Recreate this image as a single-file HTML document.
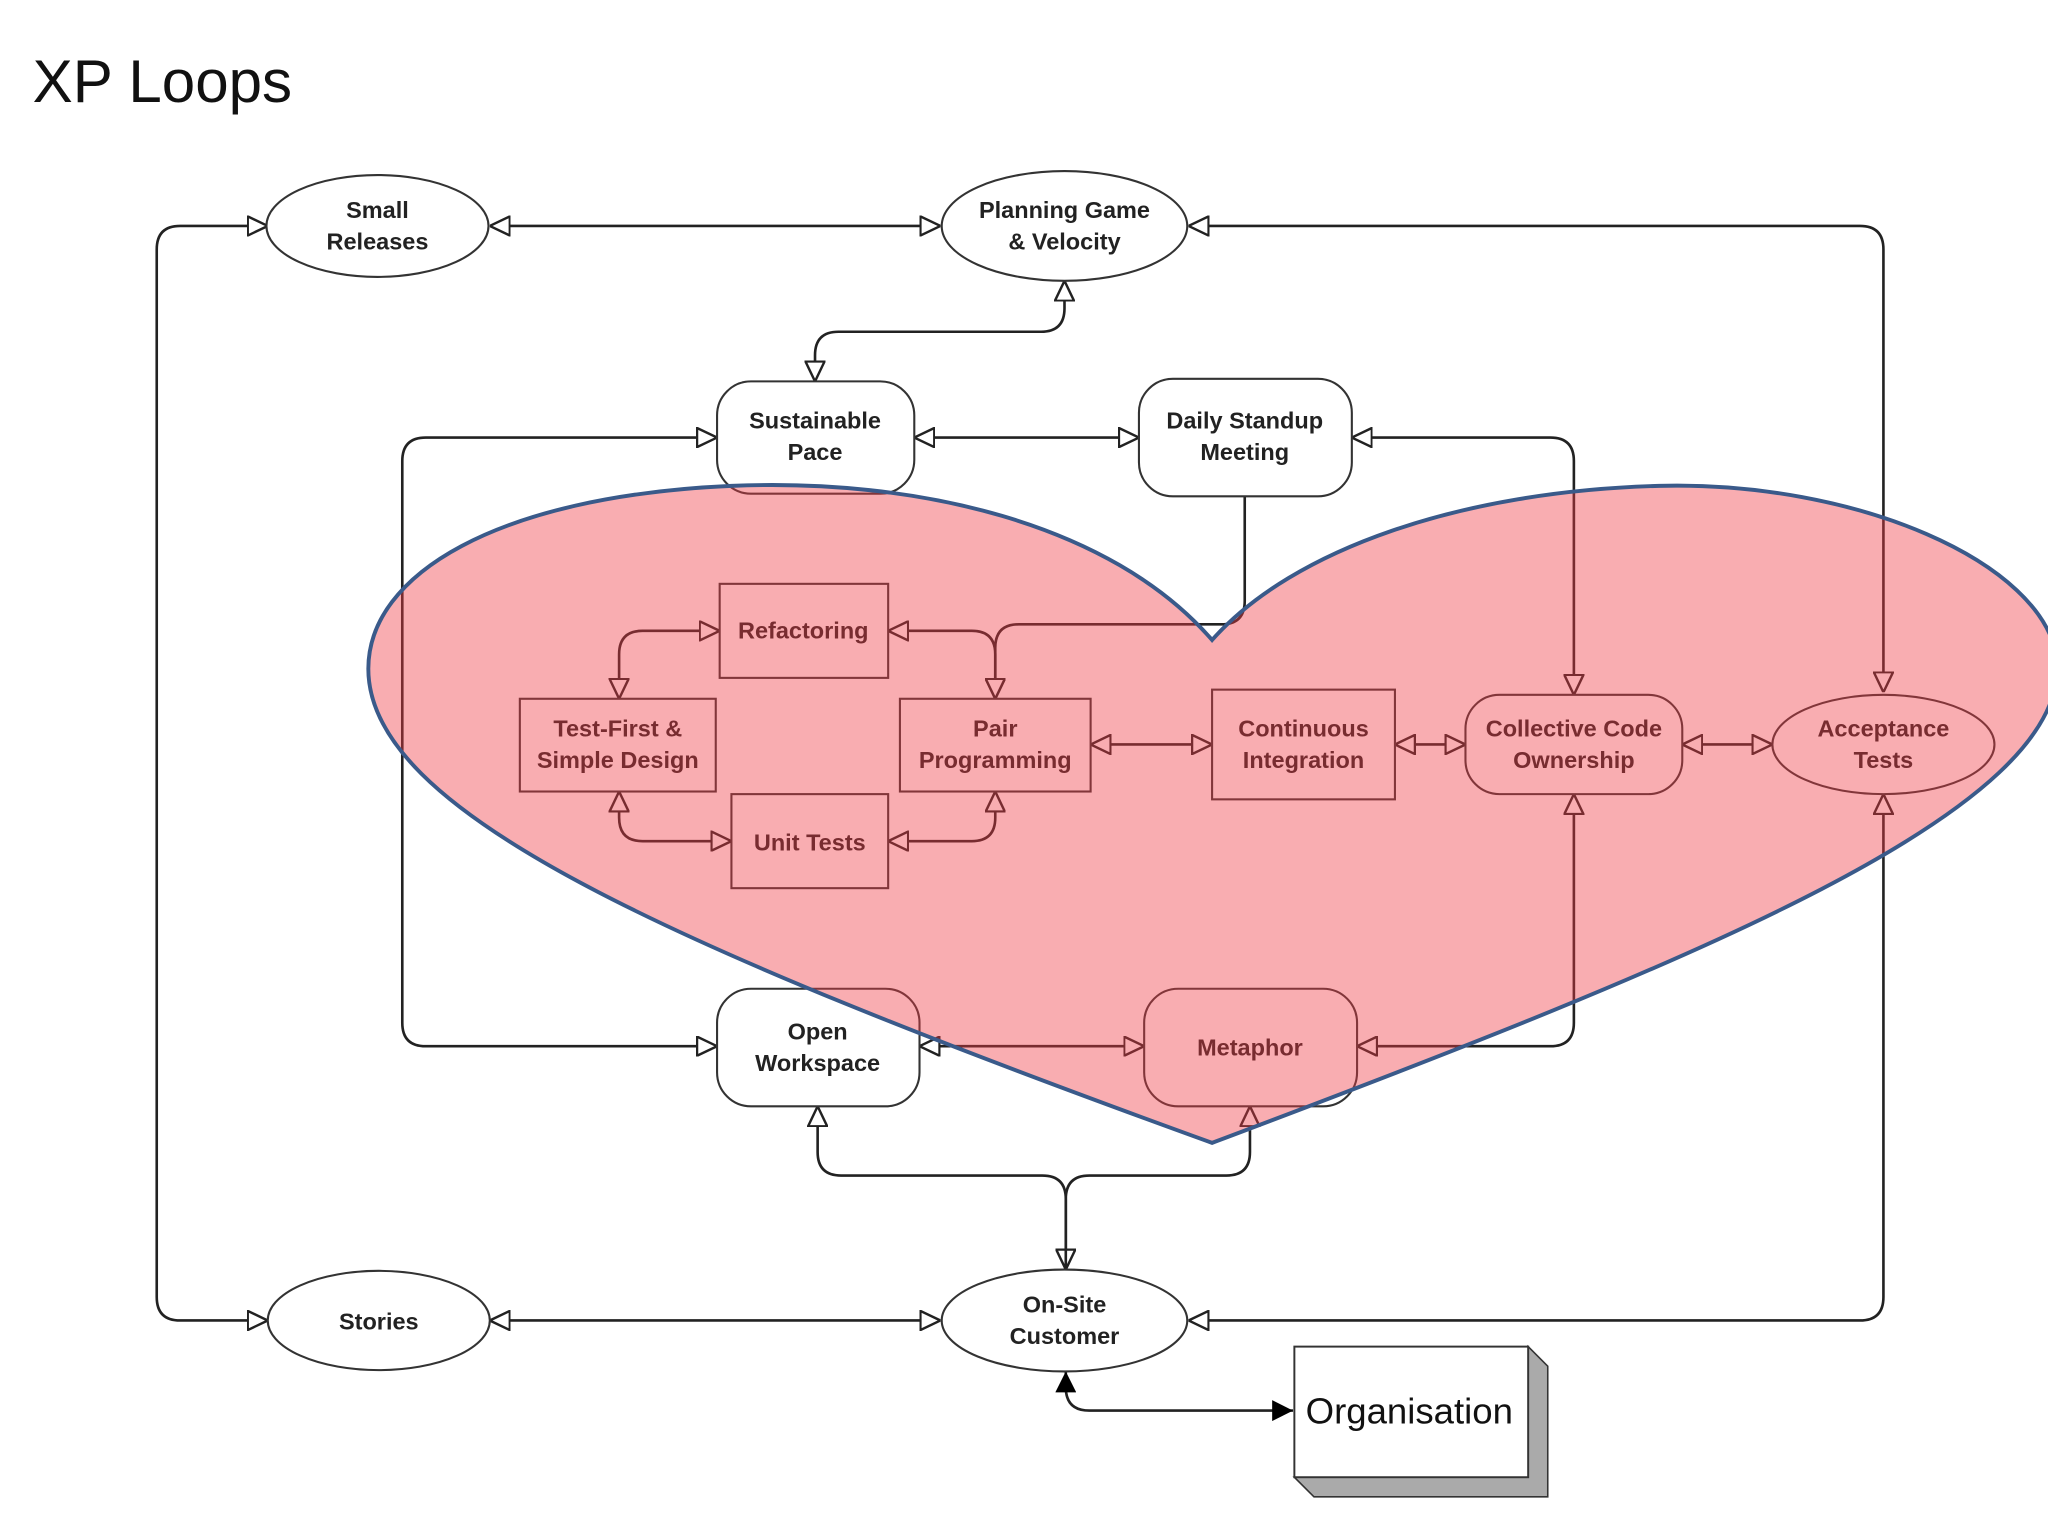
<!DOCTYPE html>
<html><head><meta charset="utf-8"><style>
html,body{margin:0;padding:0;background:#fff;}
svg{display:block;}
text{font-family:"Liberation Sans",Arial,sans-serif;}
.n{fill:#fff;stroke:#333;stroke-width:1.6;}
.l{fill:none;stroke:#222;stroke-width:2;}
.t{font-size:18px;font-weight:bold;fill:#222;text-anchor:middle;}
</style></head><body>
<svg width="2048" height="1536" viewBox="0 0 1568 1176" xmlns="http://www.w3.org/2000/svg">
<defs>
<marker id="a" viewBox="0 0 12 12" refX="12" refY="6" markerWidth="16" markerHeight="16" markerUnits="userSpaceOnUse" orient="auto-start-reverse">
<path d="M0.5,0.5 L12,6 L0.5,11.5 Z" fill="#fff" stroke="#222" stroke-width="1.4"/></marker>
<marker id="f" viewBox="0 0 12 12" refX="12" refY="6" markerWidth="16" markerHeight="16" markerUnits="userSpaceOnUse" orient="auto-start-reverse">
<path d="M0,0 L12,6 L0,12 Z" fill="#000"/></marker>
</defs>
<rect width="1568" height="1176" fill="#fff"/>
<text x="25" y="78" style="font-size:46px;fill:#111">XP Loops</text>

<g marker-start="url(#a)" marker-end="url(#a)">
<path class="l" d="M375,173 H720"/>
<path class="l" d="M910,173 H1424 Q1442,173 1442,191 V530"/>
<path class="l" d="M205,173 H138 Q120,173 120,191 V993 Q120,1011 138,1011 H205"/>
<path class="l" d="M815,215 V236 Q815,254 797,254 H642 Q624,254 624,272 V292"/>
<path class="l" d="M700,335 H872"/>
<path class="l" d="M1035,335 H1187 Q1205,335 1205,353 V532"/>
<path class="l" d="M549,335 H326 Q308,335 308,353 V783 Q308,801 326,801 H549"/>
<path class="l" d="M551,483 H492 Q474,483 474,501 V535"/>
<path class="l" d="M680,483 H744 Q762,483 762,501 V535"/>
<path class="l" d="M474,606 V626 Q474,644 492,644 H560"/>
<path class="l" d="M680,644 H744 Q762,644 762,626 V606"/>
<path class="l" d="M835,570 H928"/>
<path class="l" d="M1068,570 H1122"/>
<path class="l" d="M1288,570 H1357"/>
<path class="l" d="M1205,608 V783 Q1205,801 1187,801 H1039"/>
<path class="l" d="M704,801 H876"/>
<path class="l" d="M1442,608 V993 Q1442,1011 1424,1011 H910"/>
<path class="l" d="M375,1011 H720"/>
</g>
<path class="l" marker-end="url(#a)" d="M953,380 V460 Q953,478 935,478 H780 Q762,478 762,496 V535"/>
<path class="l" marker-start="url(#a)" marker-end="url(#a)" d="M626,847 V882 Q626,900 644,900 H798 Q816,900 816,918 V972"/>
<path class="l" marker-start="url(#a)" d="M957,847 V882 Q957,900 939,900 H834 Q816,900 816,918 V972"/>
<path class="l" marker-start="url(#f)" marker-end="url(#f)" d="M816,1050 V1062 Q816,1080 834,1080 H990"/>

<ellipse class="n" cx="289" cy="173" rx="85" ry="39"/>
<ellipse class="n" cx="815" cy="173" rx="94" ry="42"/>
<ellipse class="n" cx="290" cy="1011" rx="85" ry="38"/>
<ellipse class="n" cx="815" cy="1011" rx="94" ry="39"/>
<ellipse class="n" cx="1442" cy="570" rx="85" ry="38"/>
<rect class="n" x="549" y="292" width="151" height="86" rx="26"/>
<rect class="n" x="872" y="290" width="163" height="90" rx="26"/>
<rect class="n" x="1122" y="532" width="166" height="76" rx="26"/>
<rect class="n" x="549" y="757" width="155" height="90" rx="26"/>
<rect class="n" x="876" y="757" width="163" height="90" rx="26"/>
<rect class="n" x="551" y="447" width="129" height="72"/>
<rect class="n" x="398" y="535" width="150" height="71"/>
<rect class="n" x="689" y="535" width="146" height="71"/>
<rect class="n" x="560" y="608" width="120" height="72"/>
<rect class="n" x="928" y="528" width="140" height="84"/>

<polygon points="1170,1031 1185,1046 1185,1146 1006,1146 991,1131 1170,1131" fill="#aaa" stroke="#333" stroke-width="1.2"/>
<rect x="991" y="1031" width="179" height="100" fill="#fff" stroke="#333" stroke-width="1.5"/>
<text x="1079" y="1090" style="font-size:28px;fill:#111;text-anchor:middle">Organisation</text>

<g class="t">
<text x="289" y="167">Small</text><text x="289" y="191">Releases</text>
<text x="815" y="167">Planning Game</text><text x="815" y="191">&amp; Velocity</text>
<text x="624" y="328">Sustainable</text><text x="624" y="352">Pace</text>
<text x="953" y="328">Daily Standup</text><text x="953" y="352">Meeting</text>
<text x="615" y="489">Refactoring</text>
<text x="473" y="564">Test-First &amp;</text><text x="473" y="588">Simple Design</text>
<text x="762" y="564">Pair</text><text x="762" y="588">Programming</text>
<text x="620" y="651">Unit Tests</text>
<text x="998" y="564">Continuous</text><text x="998" y="588">Integration</text>
<text x="1205" y="564">Collective Code</text><text x="1205" y="588">Ownership</text>
<text x="1442" y="564">Acceptance</text><text x="1442" y="588">Tests</text>
<text x="626" y="796">Open</text><text x="626" y="820">Workspace</text>
<text x="957" y="808">Metaphor</text>
<text x="290" y="1018">Stories</text>
<text x="815" y="1005">On-Site</text><text x="815" y="1029">Customer</text>
</g>

<path d="M928,490 C850,400 700,366 560,372 C380,380 282,440 282,512 C282,620 500,720 928,875 C1300,735 1585,620 1575,505 C1565,430 1420,368 1270,372 C1120,376 990,420 928,490 Z" fill="rgb(240,60,70)" fill-opacity="0.42" stroke="#3a5a8a" stroke-width="3"/>
</svg>
</body></html>
